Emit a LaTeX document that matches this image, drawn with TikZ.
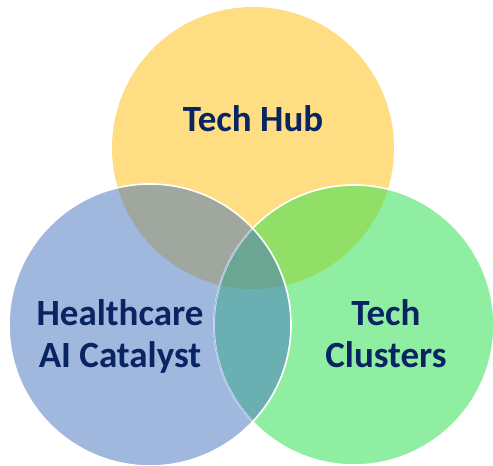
\documentclass[tikz,border=0pt]{standalone}
\usepackage{fontspec}
\setmainfont{Carlito}
\definecolor{cyel}{RGB}{255,221,130}
\definecolor{cblu}{RGB}{160,183,222}
\definecolor{cgrn}{RGB}{144,238,162}
\definecolor{cyb}{RGB}{160,167,158}
\definecolor{cyg}{RGB}{146,223,104}
\definecolor{cbg}{RGB}{106,176,179}
\definecolor{cybg}{RGB}{106,166,146}
\definecolor{ctxt}{RGB}{8,36,98}
\definecolor{cfaint}{RGB}{168,190,226}
\tikzset{
  lbl/.style={font=\bfseries\fontsize{37}{42}\selectfont, text=ctxt, align=center, inner sep=0pt},
  rim/.style={draw=white, line width=1.6pt}
}
\begin{document}
\begin{tikzpicture}[x=1pt,y=-1pt]
\useasboundingbox (0,0) rectangle (493,466);
\def\Ycirc{(253,148) circle[radius=141]}
\def\Bcirc{(150,325) circle[radius=141]}
\def\Gcirc{(354,325) circle[radius=140]}
% base fills
\fill[cyel] \Ycirc;
\fill[cgrn] \Gcirc;
\fill[cblu] \Bcirc;
% pairwise overlaps
\begin{scope}
  \clip \Ycirc;
  \fill[cyg] \Gcirc;
  \fill[cyb] \Bcirc;
\end{scope}
\begin{scope}
  \clip \Gcirc;
  \fill[cbg] \Bcirc;
\end{scope}
% triple overlap
\begin{scope}
  \clip \Ycirc;
  \clip \Gcirc;
  \fill[cybg] \Bcirc;
\end{scope}
% outlines
\draw[rim] \Gcirc;
\begin{scope}
  \clip \Bcirc;
  \draw[draw=cfaint, line width=1.2pt] \Gcirc;
\end{scope}
\draw[rim] \Bcirc;
% labels
\node[lbl, anchor=base] (hub) at (253,131) {Tech Hub};
\node[lbl, anchor=base] (hc1) at (120,325) {Healthcare};
\node[lbl, anchor=base] (hc2) at (120,367) {AI Catalyst};
\node[lbl, anchor=base] (tc1) at (386,325) {Tech};
\node[lbl, anchor=base] (tc2) at (386,367) {Clusters};
\end{tikzpicture}
\end{document}
